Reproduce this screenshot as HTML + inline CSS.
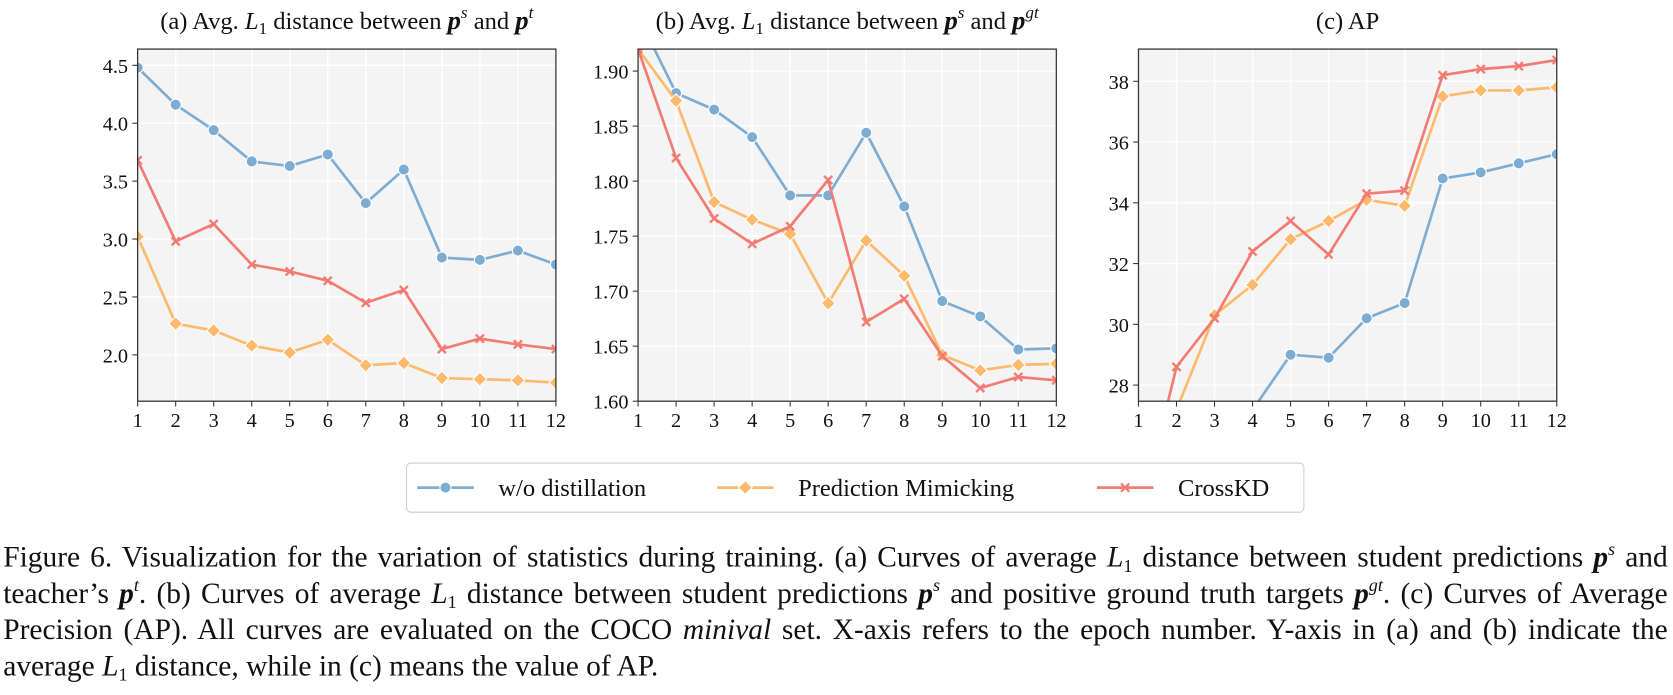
<!DOCTYPE html>
<html><head><meta charset="utf-8">
<style>
body{margin:0;background:#fff;width:1673px;height:694px;overflow:hidden;font-family:"Liberation Serif",serif;}
#wrap{position:absolute;left:0;top:0;width:1568px;height:651px;transform:scale(1.067);transform-origin:0 0;}
#chart{position:absolute;left:0;top:0;}
#caption{position:absolute;left:3px;top:505px;width:1560px;font-size:27.6px;line-height:34px;text-align:justify;color:#111;}
#caption i{font-style:italic}
#caption b{font-style:italic}
#caption sub,#caption sup{font-size:17px;line-height:0;vertical-align:baseline;position:relative;}
#caption sub{top:5px}
#caption sup{top:-11px}
</style></head><body>
<div id="wrap">
<svg id="chart" width="1568" height="500"></svg>
<div id="caption">Figure 6. Visualization for the variation of statistics during training. (a) Curves of average <i>L</i><sub>1</sub> distance between student predictions <b>p</b><sup><i>s</i></sup> and teacher’s <b>p</b><sup><i>t</i></sup>. (b) Curves of average <i>L</i><sub>1</sub> distance between student predictions <b>p</b><sup><i>s</i></sup> and positive ground truth targets <b>p</b><sup><i>gt</i></sup>. (c) Curves of Average Precision (AP). All curves are evaluated on the COCO <i>minival</i> set. X-axis refers to the epoch number. Y-axis in (a) and (b) indicate the average <i>L</i><sub>1</sub> distance, while in (c) means the value of AP.</div>
</div>
<script>
const epochs=[1,2,3,4,5,6,7,8,9,10,11,12];
const aBlue=[4.48,4.16,3.94,3.67,3.63,3.73,3.31,3.60,2.84,2.82,2.90,2.78];
const aOrange=[3.02,2.27,2.21,2.08,2.02,2.13,1.91,1.93,1.80,1.79,1.78,1.76];
const aRed=[3.68,2.98,3.13,2.78,2.72,2.64,2.45,2.56,2.05,2.14,2.09,2.05];
const bBlue=[1.95,1.880,1.865,1.840,1.787,1.787,1.844,1.777,1.691,1.677,1.647,1.648];
const bOrange=[1.92,1.873,1.781,1.765,1.752,1.689,1.746,1.714,1.642,1.628,1.633,1.634];
const bRed=[1.92,1.821,1.766,1.743,1.759,1.801,1.672,1.693,1.641,1.612,1.622,1.619];
const cBlue=[24.0,25.5,26.5,27.18,29.0,28.9,30.2,30.7,34.8,35.0,35.3,35.6];
const cOrange=[25.0,27.19,30.3,31.3,32.8,33.4,34.1,33.9,37.5,37.7,37.7,37.8];
const cRed=[23.5,28.6,30.2,32.4,33.4,32.3,34.3,34.4,38.2,38.4,38.5,38.7];
const aTicks=[2.0,2.5,3.0,3.5,4.0,4.5];
const bTicks=[1.60,1.65,1.70,1.75,1.80,1.85,1.90];
const cTicks=[28,30,32,34,36,38];
const COL={blue:'#7eadd3',orange:'#fdb96c',red:'#f27c73'};
const NS='http://www.w3.org/2000/svg';
const svg=document.getElementById('chart');
function mk(tag,attrs,parent){const e=document.createElementNS(NS,tag);for(const k in attrs)e.setAttribute(k,attrs[k]);(parent||svg).appendChild(e);return e;}
const TOP=46,BOT=376;
function marker(g,kind,x,y,c){
  let m;
  if(kind==='o'){m=mk('circle',{cx:x,cy:y,r:5.2,fill:c,stroke:'#fff','stroke-width':1},g);}
  else if(kind==='d'){m=mk('path',{d:`M${x} ${y-6.5}L${x+6.5} ${y}L${x} ${y+6.5}L${x-6.5} ${y}Z`,fill:c,stroke:'#fff','stroke-width':1},g);}
  else {m=mk('path',{d:`M${x-3.8} ${y-3.8}L${x+3.8} ${y+3.8}M${x-3.8} ${y+3.8}L${x+3.8} ${y-3.8}`,stroke:c,'stroke-width':2.2},g);}
  return m;
}
function panel(id,x0,x1,ymin,ymax,ticks,dec,series,title){
  const g=mk('g',{});
  
  
  const sx=v=>x0+(v-1)/11*(x1-x0);
  const sy=v=>BOT-(v-ymin)/(ymax-ymin)*(BOT-TOP);
  const cid='clip'+id;
  const cp=mk('clipPath',{id:cid},g);mk('rect',{x:x0,y:TOP,width:x1-x0,height:BOT-TOP},cp);
  const bg=mk('rect',{x:x0,y:TOP,width:x1-x0,height:BOT-TOP,fill:'#f4f4f4'},g);
  
  
  epochs.forEach(e=>{
    mk('line',{x1:sx(e),x2:sx(e),y1:TOP,y2:BOT,stroke:'#fff','stroke-width':1.2},g);
    mk('line',{x1:sx(e),x2:sx(e),y1:BOT,y2:BOT+5,stroke:'#333','stroke-width':1},g);
    const t=mk('text',{x:sx(e),y:BOT+24,'text-anchor':'middle','font-size':19,fill:'#111'},g);
    t.textContent=e;
    
    
  });
  ticks.forEach(v=>{
    mk('line',{x1:x0,x2:x1,y1:sy(v),y2:sy(v),stroke:'#fff','stroke-width':1.2},g);
    mk('line',{x1:x0-5,x2:x0,y1:sy(v),y2:sy(v),stroke:'#333','stroke-width':1},g);
    const t=mk('text',{x:x0-9,y:sy(v)+7,'text-anchor':'end','font-size':19,fill:'#111'},g);
    t.textContent=v.toFixed(dec);
    
    
  });
  const sg=mk('g',{'clip-path':`url(#${cid})`},g);
  series.forEach(s=>{
    const pl=mk('polyline',{points:s.data.map((v,i)=>sx(epochs[i])+','+sy(v)).join(' '),fill:'none',stroke:s.c,'stroke-width':2.5},sg);
    
    
    s.data.forEach((v,i)=>{const m=marker(sg,s.k,sx(epochs[i]),sy(v),s.c);
      
      });
  });
  const fr=mk('rect',{x:x0,y:TOP,width:x1-x0,height:BOT-TOP,fill:'none',stroke:'#333','stroke-width':1.2},g);
  
  
  const tt=mk('text',{x:(x0+x1)/2,y:27,'text-anchor':'middle','font-size':23,fill:'#111'},g);
  tt.innerHTML=title;
  
  
}
const P='<tspan font-weight="bold" font-style="italic" font-size="25">p</tspan>';
panel('a',129,521,1.60,4.64,aTicks,1,[{n:'wo',data:aBlue,c:COL.blue,k:'o'},{n:'pm',data:aOrange,c:COL.orange,k:'d'},{n:'crosskd',data:aRed,c:COL.red,k:'x'}],
 `(a) Avg. <tspan font-style="italic">L</tspan><tspan font-size="16" dy="5">1</tspan><tspan dy="-5"> distance between </tspan>${P}<tspan font-size="16" font-style="italic" dy="-10">s</tspan><tspan dy="10"> and </tspan>${P}<tspan font-size="16" font-style="italic" dy="-10">t</tspan>`);
panel('b',598,990,1.60,1.92,bTicks,2,[{n:'wo',data:bBlue,c:COL.blue,k:'o'},{n:'pm',data:bOrange,c:COL.orange,k:'d'},{n:'crosskd',data:bRed,c:COL.red,k:'x'}],
 `(b) Avg. <tspan font-style="italic">L</tspan><tspan font-size="16" dy="5">1</tspan><tspan dy="-5"> distance between </tspan>${P}<tspan font-size="16" font-style="italic" dy="-10">s</tspan><tspan dy="10"> and </tspan>${P}<tspan font-size="16" font-style="italic" dy="-10">gt</tspan>`);
panel('c',1067,1459,27.47,39.06,cTicks,0,[{n:'wo',data:cBlue,c:COL.blue,k:'o'},{n:'pm',data:cOrange,c:COL.orange,k:'d'},{n:'crosskd',data:cRed,c:COL.red,k:'x'}],'(c) AP');
const lg=mk('g',{});


mk('rect',{x:381,y:434,width:841,height:46,rx:4,fill:'#fff',stroke:'#ccc','stroke-width':1},lg);
[[391,'w/o distillation',COL.blue,'o'],[672,'Prediction Mimicking',COL.orange,'d'],[1028,'CrossKD',COL.red,'x']].forEach(([x,l,c,k])=>{
  const e=mk('g',{},lg);
  
  
  mk('line',{x1:x,x2:x+53,y1:457,y2:457,stroke:c,'stroke-width':2.5},e);
  marker(e,k,x+26.5,457,c);
  const t=mk('text',{x:x+76,y:465,'font-size':23,fill:'#111'},e);t.textContent=l;
});
</script>
</body></html>
